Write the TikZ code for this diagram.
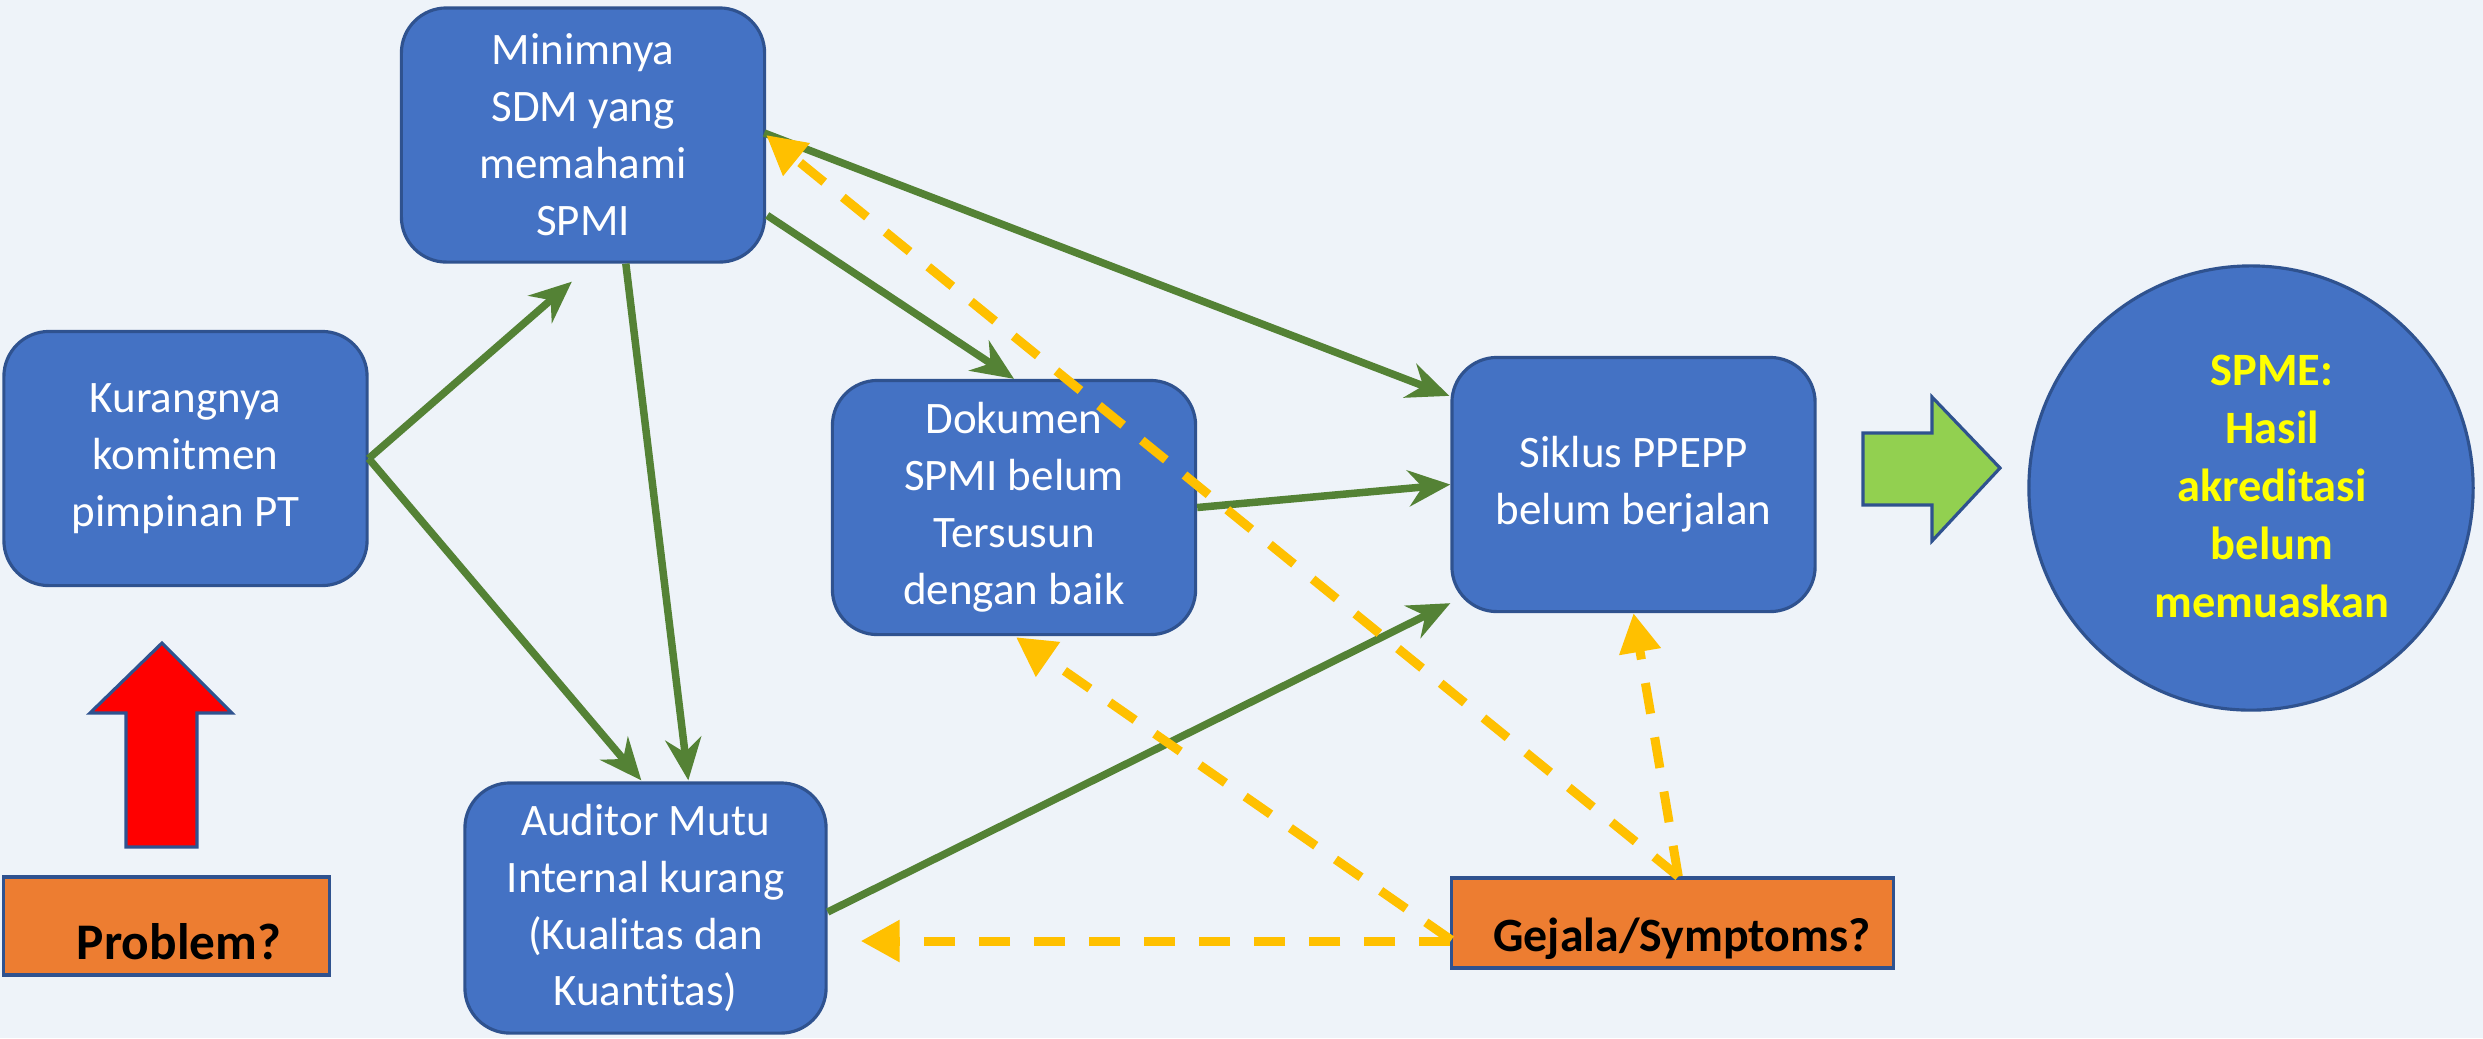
\documentclass[tikz,border=0pt]{standalone}
\usepackage{fontspec}
\setmainfont{Carlito}[Ligatures=NoCommon]
\usetikzlibrary{arrows.meta,calc}
\definecolor{bg}{RGB}{238,243,249}
\definecolor{boxblue}{HTML}{4472C4}
\definecolor{boxedge}{HTML}{2F528F}
\definecolor{arrgreen}{HTML}{548235}
\definecolor{arryellow}{HTML}{FFC000}
\definecolor{orng}{HTML}{ED7D31}
\definecolor{lgreen}{HTML}{92D050}
\definecolor{txtyellow}{HTML}{FFFF00}
\begin{document}
\begin{tikzpicture}[x=0.01cm,y=-0.01cm,
  bluebox/.style={draw=boxedge, line width=0.9pt, fill=boxblue, rounded corners=0.45cm,
    minimum width=3.63cm, minimum height=2.54cm, text=white, align=center,
    font=\fontsize{12.8}{16.2}\selectfont, inner sep=0pt},
  orangebox/.style={draw=boxedge, line width=0.9pt, fill=orng, inner sep=0pt},
  blacklabel/.style={text=black, font=\bfseries\fontsize{13.6}{16}\selectfont, inner sep=0pt},
  greenarr/.style={draw=arrgreen, line width=0.075cm,
    -{Stealth[length=0.42cm,width=0.36cm,inset=0.14cm]}},
  yelarr/.style={draw=arryellow, line width=0.09cm, dash pattern=on 0.31cm off 0.24cm,
    -{Triangle[length=0.39cm,width=0.40cm]}},
  blockarrow/.style={draw=boxedge, line width=0.9pt}
]
\fill[bg] (0,0) rectangle (2483,1038);
\useasboundingbox (0,0) rectangle (2483,1038);

% boxes
\node[bluebox] (kur) at (185.5,458.5) {Kurangnya\\komitmen\\pimpinan PT};
\node[bluebox] (mini) at (583,135) {Minimnya\\SDM yang\\memahami\\SPMI};
\node[bluebox] (dok) at (1014,507.5) {Dokumen\\SPMI belum\\Tersusun\\dengan baik};
\node[bluebox] (sik) at (1633.5,484.5) {Siklus PPEPP\\belum berjalan};
\node[bluebox, minimum width=3.61cm, minimum height=2.50cm] (aud) at (645.5,908) {Auditor Mutu\\Internal kurang\\(Kualitas dan\\Kuantitas)};

% outcome circle
\node[circle, draw=boxedge, line width=0.9pt, fill=boxblue, minimum size=4.44cm, inner sep=0pt] (spme) at (2251,488) {};
\node[text=txtyellow, align=center, font=\bfseries\fontsize{13.2}{16.5}\selectfont, inner sep=0pt] (spmetext) at (2272,486) {SPME:\\Hasil\\akreditasi\\belum\\memuaskan};

% problem / symptoms boxes
\node[orangebox, minimum width=3.25cm, minimum height=0.98cm] (prob) at (166.5,926) {};
\node[blacklabel, font=\bfseries\fontsize{14.6}{16}\selectfont] (probtext) at (179,942) {Problem?};
\node[orangebox, minimum width=4.41cm, minimum height=0.90cm] (gej) at (1672.5,923) {};
\node[blacklabel] (gejtext) at (1682,939) {Gejala/Symptoms?};

% red up arrow
\filldraw[fill=red, blockarrow] (162,643) -- (232,713) -- (197,713) -- (197,847) -- (126,847) -- (126,713) -- (90,713) -- cycle;
% green right arrow
\filldraw[fill=lgreen, blockarrow] (1863,433) -- (1932,433) -- (1932,397) -- (2000,468) -- (1932,541) -- (1932,505) -- (1863,505) -- cycle;

% green connectors
\draw[greenarr] (kur.east) -- ($(mini.south west)+(172,18)$);
\draw[greenarr] (kur.east) -- ($(aud.north west)+(178,-1)$);
\draw[greenarr] ($(mini.south west)+(226,0)$) -- ($(aud.north west)+(225,-1)$);
\draw[greenarr] ($(mini.north east)+(1,209)$) -- (dok.north);
\draw[greenarr] ($(mini.east)+(-2,-2)$) -- ($(sik.north west)+(-1,40)$);
\draw[greenarr] (dok.east) -- (sik.west);
\draw[greenarr] ($(aud.east)+(0,4)$) -- ($(sik.south west)+(0,-10)$);

% yellow dashed connectors
\draw[yelarr] ($(gej.north west)+(228,0)$) -- (mini.east);
\draw[yelarr] ($(gej.west)+(1,17)$) -- ($(dok.south)+(2,1)$);
\draw[yelarr] ($(gej.west)+(0,18)$) -- ($(aud.east)+(33,33)$);
\draw[yelarr] ($(gej.north west)+(228,0)$) -- (sik.south);
\end{tikzpicture}
\end{document}
